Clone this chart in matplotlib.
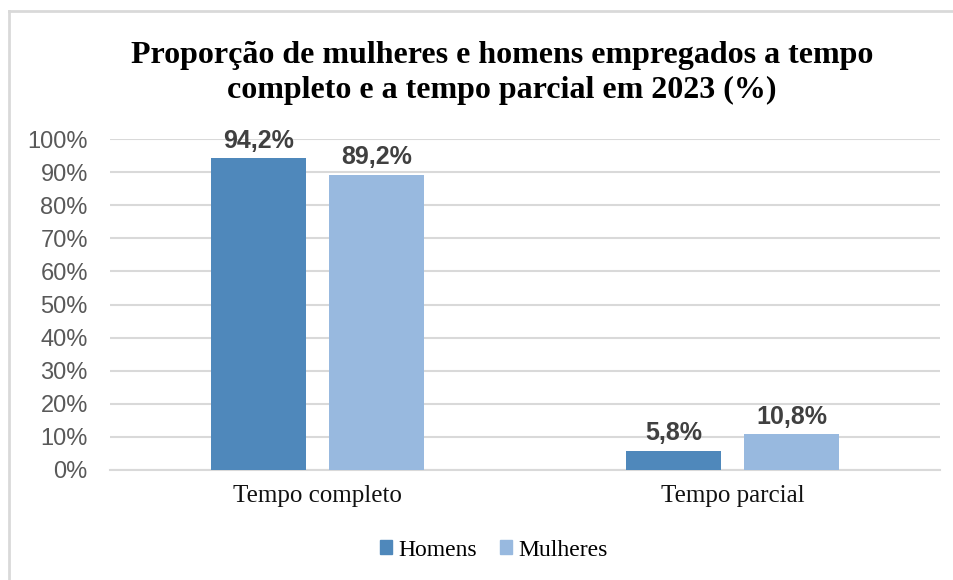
import matplotlib.pyplot as plt
import numpy as np
from matplotlib.lines import Line2D
from matplotlib.patches import Patch

# data
categories = ["Tempo completo", "Tempo parcial"]
homens = [94.2, 5.8]
mulheres = [89.2, 10.8]
series_names = ["Homens", "Mulheres"]
colors = ["#4F88BB", "#98B9DF"]

fig = plt.figure(figsize=(9.54, 5.8), dpi=100)
ax = fig.add_axes([110 / 954, 1 - 470 / 580, 830 / 954, 331 / 580])

x = np.arange(len(categories))
width = 0.227
offset = 0.142
b1 = ax.bar(x - offset, homens, width, color=colors[0], zorder=3)
b2 = ax.bar(x + offset, mulheres, width, color=colors[1], zorder=3)

for bars, vals in [(b1, homens), (b2, mulheres)]:
    for rect, v in zip(bars, vals):
        ax.annotate(f"{v:.1f}%".replace(".", ","),
                    (rect.get_x() + rect.get_width() / 2, v),
                    xytext=(0, 4), textcoords="offset points",
                    ha="center", va="bottom", fontsize=18, fontweight="bold",
                    color="#404040", family="Liberation Sans")

ax.set_xlim(-0.5, 1.5)
ax.set_ylim(0, 100)
ax.set_yticks(np.arange(0, 101, 10))
ax.set_yticklabels([f"{t}%" for t in range(0, 101, 10)],
                   fontsize=17, color="#595959", family="Liberation Sans")
ax.set_xticks(x)
ax.set_xticklabels(categories, fontsize=18, color="#111111", family="Liberation Serif")
ax.tick_params(axis="both", length=0)
ax.tick_params(axis="x", pad=11)
ax.tick_params(axis="y", pad=16)
ax.grid(axis="y", color="#D9D9D9", linewidth=1.5, zorder=0)
for s in ["top", "right", "left"]:
    ax.spines[s].set_visible(False)
ax.spines["bottom"].set_color("#D9D9D9")
ax.spines["bottom"].set_linewidth(1.5)

fig.text(0.526, 1 - 73 / 580,
         "Proporção de mulheres e homens empregados a tempo\ncompleto e a tempo parcial em 2023 (%)",
         ha="center", va="center", fontsize=23, fontweight="bold",
         family="Liberation Serif", linespacing=1.27)

handles = [Patch(color=c) for c in colors]
fig.legend(handles, series_names, loc="center", bbox_to_anchor=(494 / 954, 1 - 550 / 580),
           ncol=2, frameon=False, prop={"family": "Liberation Serif", "size": 17},
           handlelength=0.5, handleheight=0.5, handletextpad=0.25, columnspacing=1.0)

# chart border (only left and top edges fall inside the picture)
fig.add_artist(Line2D([9 / 954, 9 / 954], [0, 1 - 11 / 580], color="#D9D9D9", linewidth=2))
fig.add_artist(Line2D([9 / 954, 1], [1 - 11 / 580, 1 - 11 / 580], color="#D9D9D9", linewidth=2))

fig.savefig("out.png", dpi=100, facecolor="white")
